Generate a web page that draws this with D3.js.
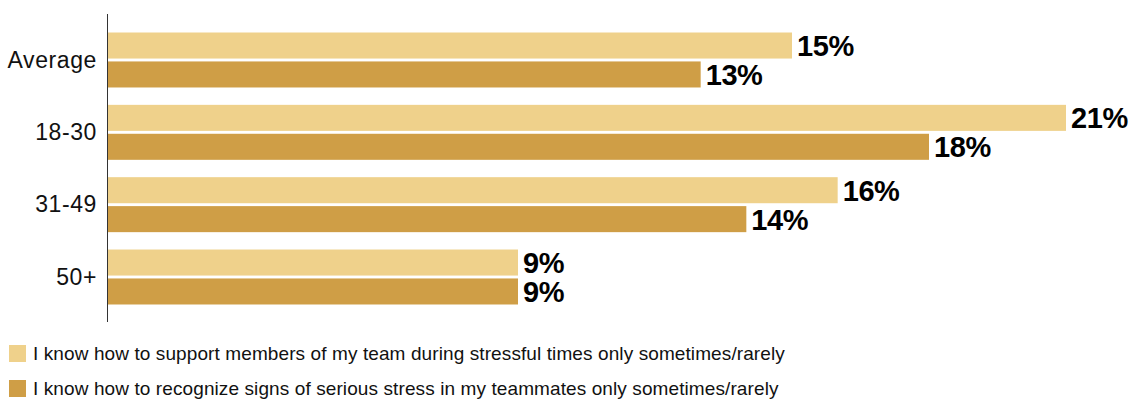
<!DOCTYPE html>
<html>
<head>
<meta charset="utf-8">
<script src="https://cdn.jsdelivr.net/npm/d3@7"></script>
<style>
  html, body { margin: 0; padding: 0; background: #fff; }
  svg { display: block; }
  .cat { font-family: "Liberation Sans", Arial, Helvetica, sans-serif; font-size: 23px; fill: #111; letter-spacing: 0.6px; }
  .val { font-family: "Liberation Sans", Arial, Helvetica, sans-serif; font-size: 29px; font-weight: bold; fill: #000; letter-spacing: -0.4px; }
  .leg { font-family: "Liberation Sans", Arial, Helvetica, sans-serif; font-size: 19px; fill: #111; letter-spacing: 0.1px; }
</style>
</head>
<body>
<script>
// Age groups and the share of respondents per statement (percent)
const categories = ["Average", "18-30", "31-49", "50+"];
const seriesNames = [
  "I know how to support members of my team during stressful times only sometimes/rarely",
  "I know how to recognize signs of serious stress in my teammates only sometimes/rarely"
];
const supportValues   = [15, 21, 16, 9];
const recognizeValues = [13, 18, 14, 9];
const colors = ["#efd18b", "#cf9e46"];

const W = 1140, H = 400;
const svg = d3.select("body").append("svg").attr("width", W).attr("height", H);

const series = [supportValues, recognizeValues];
const rows = categories.map((c, i) => ({ cat: c, vals: series.map((s, k) => ({ k, v: s[i] })) }));

const x = d3.scaleLinear().domain([0, 21]).range([107, 1066]);
const y = d3.scaleBand().domain(categories).range([15, 322]).paddingInner(0.24).paddingOuter(0.242);
const yInner = d3.scaleBand().domain([0, 1]).range([0, y.bandwidth()]).paddingInner(0.1);

const g = svg.selectAll("g.row").data(rows).join("g")
  .attr("class", "row")
  .attr("transform", d => `translate(0,${y(d.cat)})`);

g.selectAll("rect").data(d => d.vals).join("rect")
  .attr("x", x(0))
  .attr("y", d => yInner(d.k))
  .attr("width", d => x(d.v) - x(0))
  .attr("height", yInner.bandwidth())
  .attr("fill", d => colors[d.k]);

g.selectAll("text.val").data(d => d.vals).join("text")
  .attr("class", "val")
  .attr("x", d => x(d.v) + 5)
  .attr("y", d => yInner(d.k) + yInner.bandwidth() / 2)
  .attr("dy", "0.36em")
  .text(d => d.v + "%");

// Category axis on the left: line plus labels, no ticks
const yAxis = d3.axisLeft(y).tickSize(0).tickPadding(10);
const ax = svg.append("g").attr("transform", `translate(${x(0)},0)`).call(yAxis);
ax.select(".domain").remove();
ax.selectAll("text").attr("class", "cat").attr("font-size", null).attr("font-family", null).attr("fill", null).attr("dy", "0.34em");
svg.append("line")
  .attr("x1", x(0) + 0.5).attr("x2", x(0) + 0.5)
  .attr("y1", 14).attr("y2", 322)
  .attr("stroke", "#333").attr("stroke-width", 1);

// Legend
const leg = svg.selectAll("g.leg").data(seriesNames).join("g")
  .attr("transform", (d, i) => `translate(9,${345 + i * 35})`);
leg.append("rect").attr("width", 17).attr("height", 17).attr("fill", (d, i) => colors[i]);
leg.append("text").attr("class", "leg").attr("x", 24).attr("y", 8.5).attr("dy", "0.36em").text(d => d);
</script>
</body>
</html>
